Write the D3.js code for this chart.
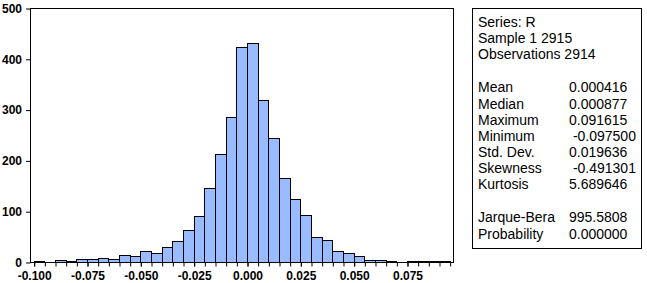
<!DOCTYPE html>
<html>
<head>
<meta charset="utf-8">
<script src="https://cdn.jsdelivr.net/npm/d3@7"></script>
<style>
  html, body { margin: 0; padding: 0; background: #fff; }
  svg { display: block; }
  .tick text { font-family: "Liberation Sans", Arial, sans-serif; font-weight: bold; font-size: 12px; fill: #000; }
  .stats text { font-family: "Liberation Sans", Arial, sans-serif; font-size: 14px; fill: #000; white-space: pre; }
</style>
</head>
<body>
<svg id="chart" width="647" height="283"></svg>
<script>
// ---- data ----
const binWidth = 0.005;
const binStarts = [
  -0.100, -0.095, -0.090, -0.085, -0.080, -0.075, -0.070, -0.065, -0.060, -0.055,
  -0.050, -0.045, -0.040, -0.035, -0.030, -0.025, -0.020, -0.015, -0.010, -0.005,
   0.000,  0.005,  0.010,  0.015,  0.020,  0.025,  0.030,  0.035,  0.040,  0.045,
   0.050,  0.055,  0.060,  0.065,  0.070,  0.075,  0.080,  0.085,  0.090
];
const counts = [
    2,   0,   4,   2,   6,   6,   8,   6,  14,  12,
   21,  18,  29,  41,  63,  90, 145, 212, 285, 423,
  431, 319, 244, 165, 124,  92,  49,  44,  21,  18,
   12,   4,   4,   2,   0,   1,   2,   1,   2
];
const xTickValues = [-0.100, -0.075, -0.050, -0.025, 0.000, 0.025, 0.050, 0.075];
const xTickLabels = ["-0.100", "-0.075", "-0.050", "-0.025", "0.000", "0.025", "0.050", "0.075"];
const xMinorTicks = d3.range(-100, 96, 5).map(v => v / 1000);
const yTickValues = [0, 100, 200, 300, 400, 500];
const statLabels = ["Series: R", "Sample 1 2915", "Observations 2914", "",
  "Mean", "Median", "Maximum", "Minimum", "Std. Dev.", "Skewness", "Kurtosis", "",
  "Jarque-Bera", "Probability"];
const statValues = ["", "", "", "",
  "0.000416", "0.000877", "0.091615", " -0.097500", "0.019636", " -0.491301", "5.689646", "",
  "995.5808", "0.000000"];

// ---- layout ----
const svg = d3.select("#chart");
const L = 30.5, R = 453.5, T = 8.5, B = 262.5;
const pxPerUnit = (53.33 / 0.025);
const x = d3.scaleLinear()
  .domain([-(247.5 - L) / pxPerUnit, (R - 247.5) / pxPerUnit])
  .range([L, R]);
const y = d3.scaleLinear().domain([0, 500]).range([B, T]);

const snap = v => Math.round(v - 0.5) + 0.5;

// bars
const bins = binStarts.map((s, i) => ({ s, e: s + binWidth, c: counts[i] })).filter(d => d.c > 0);
svg.append("g").selectAll("rect").data(bins).join("rect")
  .attr("x", d => snap(x(d.s)))
  .attr("y", d => snap(y(d.c)))
  .attr("width", d => snap(x(d.e)) - snap(x(d.s)))
  .attr("height", d => Math.max(0, B - snap(y(d.c))))
  .attr("fill", "#99bbff")
  .attr("stroke", "#000")
  .attr("stroke-width", 1);

// frame
svg.append("rect")
  .attr("x", L).attr("y", T).attr("width", R - L).attr("height", B - T)
  .attr("fill", "none").attr("stroke", "#000").attr("stroke-width", 1);

// x axis minor ticks
const xMinor = svg.append("g").attr("transform", `translate(0,${B})`)
  .call(d3.axisBottom(x).tickValues(xMinorTicks).tickSize(4).tickFormat(""));
xMinor.select(".domain").remove();
xMinor.selectAll(".tick line").attr("stroke", "#000")
  .attr("transform", function() { return null; });

// x axis labels
const xMajor = svg.append("g").attr("transform", `translate(0,${B})`)
  .call(d3.axisBottom(x).tickValues(xTickValues).tickSize(4).tickPadding(5)
    .tickFormat((d, i) => xTickLabels[i]));
xMajor.select(".domain").remove();
xMajor.selectAll(".tick line").attr("stroke", "#000");

// y axis
const yAx = svg.append("g").attr("transform", `translate(${L},0)`)
  .call(d3.axisLeft(y).tickValues(yTickValues).tickSize(4.5).tickPadding(4).tickFormat(d3.format("d")));
yAx.select(".domain").remove();
yAx.selectAll(".tick line").attr("stroke", "#000");

// stats box
const box = svg.append("g").attr("class", "stats");
box.append("rect")
  .attr("x", 472.5).attr("y", 8.5).attr("width", 169).attr("height", 240)
  .attr("fill", "#fff").attr("stroke", "#000").attr("stroke-width", 1);

let yy = 26.5;
const rows = [];
statLabels.forEach((lab, i) => {
  rows.push({ lab, val: statValues[i], y: yy });
  yy += (lab === "" || (i > 0 && statLabels[i - 1] === "" )) ? 17 : 16;
});
box.selectAll("text.lab").data(rows.filter(r => r.lab !== "")).join("text")
  .attr("class", "lab").attr("x", 478).attr("y", d => d.y).text(d => d.lab);
box.selectAll("text.val").data(rows.filter(r => r.val !== "")).join("text")
  .attr("class", "val").attr("x", 569).attr("y", d => d.y).text(d => d.val);
</script>
</body>
</html>
